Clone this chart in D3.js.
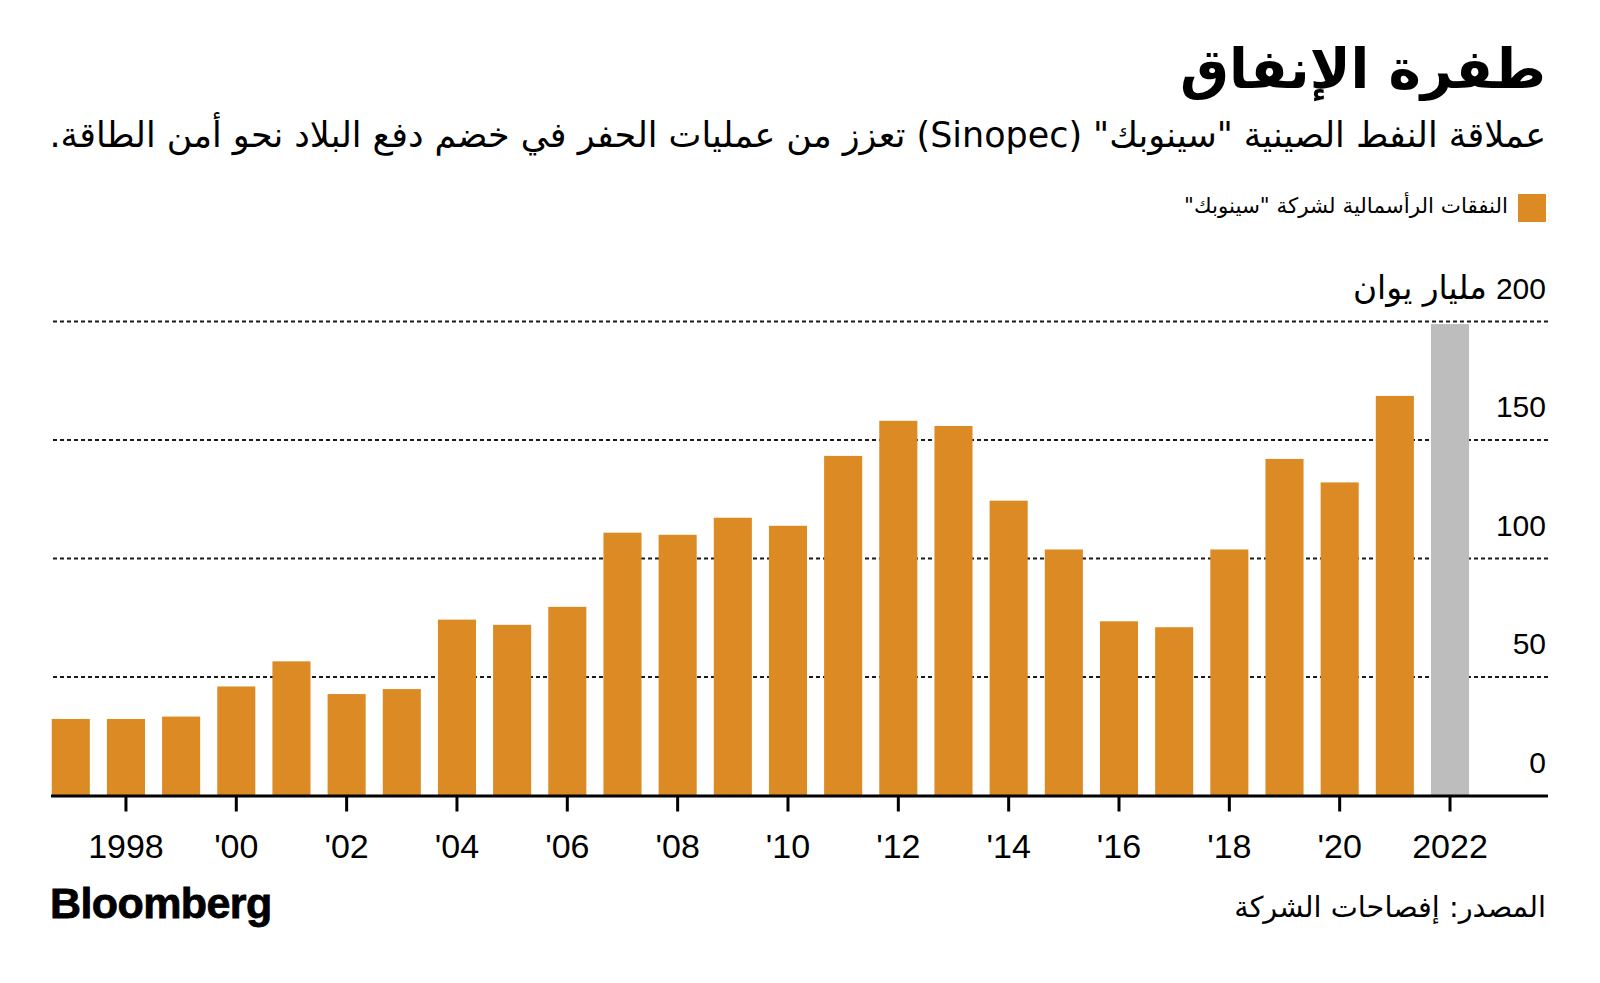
<!DOCTYPE html>
<html>
<head>
<meta charset="utf-8">
<script src="https://cdn.jsdelivr.net/npm/d3@7"></script>
<style>
  html, body { margin: 0; padding: 0; background: #fff; }
  svg { display: block; }
  .rtl { direction: rtl; unicode-bidi: embed; }
</style>
</head>
<body>
<svg id="chart" width="1600" height="983"></svg>
<script>
// ---- Data ----
const titleText = "طفرة الإنفاق";
const subtitleText = "عملاقة النفط الصينية \"سينوبك\" (Sinopec) تعزز من عمليات الحفر في خضم دفع البلاد نحو أمن الطاقة.";
const legendLabel = "النفقات الرأسمالية لشركة \"سينوبك\"";
const unitLabel = "مليار يوان";
const sourceText = "المصدر: إفصاحات الشركة";
const brandText = "Bloomberg";

const years = [1997, 1998, 1999, 2000, 2001, 2002, 2003, 2004, 2005, 2006, 2007, 2008, 2009,
               2010, 2011, 2012, 2013, 2014, 2015, 2016, 2017, 2018, 2019, 2020, 2021, 2022];
const capex = [32.3, 32.3, 33.3, 46.0, 56.6, 42.8, 44.9, 74.2, 72.0, 79.6, 110.9, 110.0, 117.2,
               113.8, 143.3, 158.1, 155.9, 124.4, 103.8, 73.5, 71.0, 103.8, 142.0, 132.1, 168.6, 198.9];
const plannedYears = [2022];

const yTicks = [0, 50, 100, 150, 200];
const xTickYears = [1998, 2000, 2002, 2004, 2006, 2008, 2010, 2012, 2014, 2016, 2018, 2020, 2022];
const xTickLabels = ["1998", "'00", "'02", "'04", "'06", "'08", "'10", "'12", "'14", "'16", "'18", "'20", "2022"];

// ---- Styles ----
const ORANGE = "#DB8A24";
const GRAY = "#BDBDBD";
const ARABIC = "'DejaVu Sans', sans-serif";
const LATIN = "'Liberation Sans', Arial, 'DejaVu Sans', sans-serif";

const svg = d3.select("#chart");

function fitWidth(sel, target) {
  const node = sel.node();
  const fs = parseFloat(sel.attr("font-size"));
  const w = node.getComputedTextLength();
  if (w > 0) sel.attr("font-size", (fs * target / w).toFixed(2));
  return sel;
}

// Right-anchored RTL text: in an rtl run, text-anchor "start" is the right edge
function rtlText(xPos, yPos, family, size, str) {
  return svg.append("text")
    .attr("class", "rtl")
    .attr("x", xPos).attr("y", yPos)
    .attr("text-anchor", "start")
    .attr("font-family", family)
    .attr("font-size", size)
    .attr("fill", "#000")
    .text(str);
}

// ---- Header ----
const title = rtlText(1546, 88, ARABIC, 52, titleText).attr("font-weight", "bold");
fitWidth(title, 366);

const subtitle = rtlText(1546, 147, "'DejaVu Sans', 'Liberation Sans', sans-serif", 30, subtitleText);
fitWidth(subtitle, 1497);

// Legend
svg.append("rect")
  .attr("x", 1518).attr("y", 194)
  .attr("width", 28).attr("height", 28)
  .attr("fill", ORANGE);
const legend = rtlText(1508, 213, ARABIC, 20, legendLabel);
fitWidth(legend, 324);

// ---- Scales ----
const x = d3.scaleBand()
  .domain(years)
  .range([43.2, 1477.6])
  .paddingInner(0.31)
  .paddingOuter(0.155);

const y = d3.scaleLinear()
  .domain([0, 200])
  .range([795.5, 321.5]);

const axisLeft = 51, axisRight = 1548;

// Gridlines (dashed)
svg.append("g")
  .selectAll("line")
  .data(yTicks.filter(d => d > 0))
  .join("line")
  .attr("x1", 53).attr("x2", axisRight)
  .attr("y1", d => y(d)).attr("y2", d => y(d))
  .attr("stroke", "#1a1a1a")
  .attr("stroke-width", 1.8)
  .attr("stroke-dasharray", "4,3");

// Y labels
svg.append("g")
  .selectAll("text")
  .data(yTicks)
  .join("text")
  .attr("x", 1546)
  .attr("y", d => y(d) - 23)
  .attr("text-anchor", "end")
  .attr("font-family", LATIN)
  .attr("font-size", 30)
  .attr("fill", "#000")
  .text(d => d3.format("d")(d));

// Unit label beside 200
const lab200 = svg.append("text")
  .attr("font-family", LATIN).attr("font-size", 30).text("200");
const w200 = lab200.node().getComputedTextLength();
lab200.remove();
const unitRight = 1546 - w200 - 9;
const unit = rtlText(unitRight, y(200) - 23, ARABIC, 28, unitLabel);
fitWidth(unit, unitRight - 1353);

// Bars
svg.append("g")
  .selectAll("rect")
  .data(years.map((yr, i) => ({ year: yr, value: capex[i] })))
  .join("rect")
  .attr("x", d => x(d.year))
  .attr("width", x.bandwidth())
  .attr("y", d => y(d.value))
  .attr("height", d => y(0) - y(d.value))
  .attr("fill", d => plannedYears.includes(d.year) ? GRAY : ORANGE);

// X axis line
svg.append("line")
  .attr("x1", axisLeft).attr("x2", axisRight)
  .attr("y1", y(0) + 0.5).attr("y2", y(0) + 0.5)
  .attr("stroke", "#000").attr("stroke-width", 3);

// X ticks
const xc = d => x(d) + x.bandwidth() / 2;
svg.append("g")
  .selectAll("line")
  .data(xTickYears)
  .join("line")
  .attr("x1", xc).attr("x2", xc)
  .attr("y1", y(0) + 1).attr("y2", y(0) + 16)
  .attr("stroke", "#000").attr("stroke-width", 3);

svg.append("g")
  .selectAll("text")
  .data(xTickYears)
  .join("text")
  .attr("x", xc)
  .attr("y", 858)
  .attr("text-anchor", "middle")
  .attr("font-family", LATIN)
  .attr("font-size", 34)
  .attr("fill", "#000")
  .text((d, i) => xTickLabels[i]);

// ---- Footer ----
svg.append("text")
  .attr("x", 50).attr("y", 918)
  .attr("font-family", LATIN)
  .attr("font-weight", "bold")
  .attr("font-size", 43)
  .attr("letter-spacing", -0.6)
  .attr("stroke", "#000").attr("stroke-width", 0.8)
  .attr("fill", "#000")
  .text(brandText);

const source = rtlText(1546, 917, ARABIC, 28, sourceText);
fitWidth(source, 312);
</script>
</body>
</html>
